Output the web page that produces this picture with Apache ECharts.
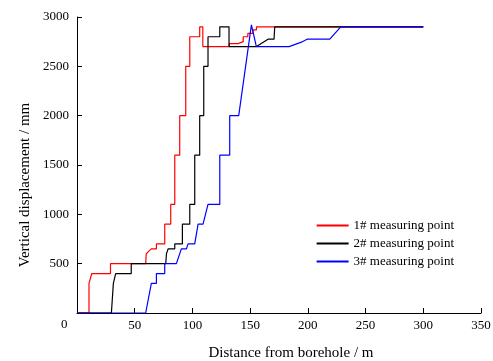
<!DOCTYPE html>
<html>
<head>
<meta charset="utf-8">
<script src="https://cdn.jsdelivr.net/npm/echarts@6/dist/echarts.min.js"></script>
<style>
  html, body { margin: 0; padding: 0; background: #fff; }
  #chart { width: 493px; height: 361px; }
</style>
</head>
<body>
<div id="chart"></div>
<script>
// distance from borehole (m) / vertical displacement (mm)
const p1Dist = [0, 10.4, 10.4, 12, 12.8, 29, 29, 59.5, 60, 62, 64.4, 68.8, 68.8, 76, 76, 81.2, 81.2, 84.7, 84.7, 89, 89, 94.2, 94.2, 97.7, 97.7, 106.3, 106.3, 109, 109, 132, 132, 139.5, 139.5, 144, 144, 148, 148, 152.5, 152.5, 155.5, 155.5, 300];
const p1Disp = [0, 0, 300, 300, 400, 400, 500, 500, 600, 625, 650, 650, 700, 700, 900, 900, 1100, 1100, 1600, 1600, 2000, 2000, 2500, 2500, 2800, 2800, 2900, 2900, 2700, 2700, 2730, 2730, 2750, 2750, 2800, 2800, 2835, 2835, 2870, 2870, 2900, 2900];

const p2Dist = [0, 29.8, 31.5, 32.7, 33.5, 47, 47, 76.9, 77.5, 78.9, 84.7, 84.7, 91.3, 91.3, 97.7, 97.7, 102, 102, 106.3, 106.3, 109.8, 109.8, 113.5, 113.5, 123.7, 123.7, 131.7, 131.7, 155.5, 155.5, 165.5, 170.7, 171.3, 300];
const p2Disp = [0, 0, 300, 300, 400, 400, 500, 500, 600, 650, 650, 700, 700, 900, 900, 1100, 1100, 1600, 1600, 2000, 2000, 2500, 2500, 2800, 2800, 2900, 2900, 2700, 2700, 2720, 2775, 2775, 2900, 2900];

const p3Dist = [0, 59.5, 64.4, 68.8, 68.8, 76, 76, 86.1, 90.4, 94.8, 96.2, 102, 104.9, 109.2, 113.5, 123.7, 123.7, 132.3, 132.3, 140.1, 151.1, 155.4, 183.7, 194.4, 199.3, 219, 228.5, 300];
const p3Disp = [0, 0, 300, 300, 400, 400, 500, 500, 650, 650, 700, 700, 900, 900, 1100, 1100, 1600, 1600, 2000, 2000, 2920, 2700, 2700, 2745, 2775, 2775, 2900, 2900];

const seriesNames = ['1# measuring point', '2# measuring point', '3# measuring point'];
const seriesColors = ['#ff0000', '#000000', '#0000ff'];
const xTicks = { min: 0, max: 350, interval: 50 };
const yTicks = { min: 0, max: 3000, interval: 500 };

const pairs = (xs, ys) => xs.map((x, i) => [x, ys[i]]);
const allData = [pairs(p1Dist, p1Disp), pairs(p2Dist, p2Disp), pairs(p3Dist, p3Disp)];

const chart = echarts.init(document.getElementById('chart'));
const font = '"Liberation Serif", "Times New Roman", serif';

chart.setOption({
  animation: false,
  textStyle: { fontFamily: font },
  grid: { left: 77, right: 12, top: 17, bottom: 48, containLabel: false, outerBoundsMode: 'none' },
  legend: {
    right: 34,
    top: 214,
    orient: 'vertical',
    itemWidth: 32,
    itemHeight: 2,
    itemGap: 5,
    icon: 'rect',
    textStyle: { fontFamily: font, fontSize: 13, color: '#000' },
    data: seriesNames
  },
  xAxis: {
    type: 'value',
    min: xTicks.min,
    max: xTicks.max,
    interval: xTicks.interval,
    name: 'Distance from borehole / m',
    nameLocation: 'middle',
    nameGap: 33,
    nameTextStyle: { fontFamily: font, fontSize: 15, color: '#000', padding: [0, 0, 0, 24] },
    axisLine: { lineStyle: { color: '#000', width: 1 } },
    axisTick: { inside: true, length: 5, lineStyle: { color: '#000' } },
    axisLabel: {
      fontFamily: font, fontSize: 13, color: '#000', margin: 6,
      formatter: v => (v === 0 ? '' : String(v))
    },
    splitLine: { show: false }
  },
  yAxis: {
    type: 'value',
    min: yTicks.min,
    max: yTicks.max,
    interval: yTicks.interval,
    name: 'Vertical displacement / mm',
    nameLocation: 'middle',
    nameGap: 40,
    nameTextStyle: { fontFamily: font, fontSize: 15, color: '#000', padding: [0, 40, 0, 0] },
    axisLine: { show: true, lineStyle: { color: '#000', width: 1 } },
    axisTick: { show: true, inside: true, length: 5, lineStyle: { color: '#000' } },
    axisLabel: {
      fontFamily: font, fontSize: 13, color: '#000', margin: 8,
      formatter: v => (v === 0 ? '' : String(v))
    },
    splitLine: { show: false }
  },
  graphic: [{
    type: 'text',
    left: 61,
    top: 318,
    style: { text: '0', font: '13px ' + font, fill: '#000' }
  }],
  series: allData.map((d, i) => ({
    name: seriesNames[i],
    type: 'line',
    data: d,
    symbol: 'none',
    color: seriesColors[i],
    lineStyle: { width: 1.2, color: seriesColors[i] }
  }))
});
</script>
</body>
</html>
